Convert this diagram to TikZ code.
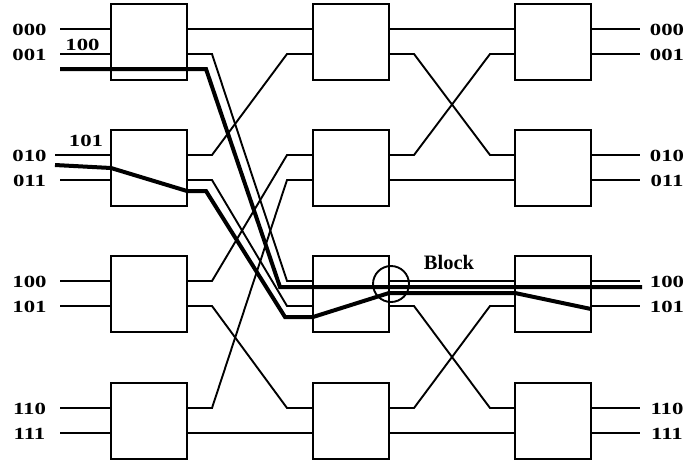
\documentclass[tikz,border=0pt]{standalone}
\usepackage{fontspec}
\usepackage{graphicx}
\setmainfont{Liberation Serif}
\usetikzlibrary{calc}
\newcommand\dgt[1]{\scalebox{1.34}[1]{#1}}
\begin{document}
\begin{tikzpicture}[x=1pt,y=-1pt,
  sw/.style={draw, line width=2pt, minimum width=76pt, minimum height=76pt, inner sep=0pt},
  wire/.style={line width=1.9pt},
  hot/.style={line width=4pt},
  lbl/.style={font=\bfseries\fontsize{17}{17}\selectfont, inner sep=0pt},
  blocklbl/.style={font=\bfseries\fontsize{20.5}{20}\selectfont, inner sep=0pt},
  ring/.style={draw, circle, line width=1.9pt, minimum size=36pt, inner sep=0pt}
]
\useasboundingbox (0,0) rectangle (684,464);
% switch boxes
\foreach \c/\x in {1/149,2/351,3/553}
  \foreach \r/\y in {0/42,1/168,2/294,3/421}
    \node[sw] (b\c\r) at (\x,\y) {};
% port coordinates
\foreach \k/\y/\s in {0/29/60,1/54/60,2/155/55,3/180/60,4/281/60,5/306/60,6/408/60,7/433/60} {
  \coordinate (in\k) at (\s,\y);
  \coordinate (ia\k) at (111,\y);
  \coordinate (oa\k) at (187,\y);
  \coordinate (ib\k) at (313,\y);
  \coordinate (ob\k) at (389,\y);
  \coordinate (ic\k) at (515,\y);
  \coordinate (oc\k) at (591,\y);
  \coordinate (out\k) at (640,\y);
}
% input and output lines
\foreach \k in {0,...,7} {
  \draw[wire] (in\k) -- (ia\k);
  \draw[wire] (oc\k) -- (out\k);
}
% stage 1 wiring
\foreach \a/\b in {0/0,1/4,2/1,3/5,4/2,5/6,6/3,7/7}
  \draw[wire] (oa\a) -- ($(oa\a)+(25,0)$) -- ($(ib\b)+(-26,0)$) -- (ib\b);
% stage 2 wiring
\foreach \a/\b in {0/0,1/2,2/1,3/3,4/4,5/6,6/5,7/7}
  \draw[wire] (ob\a) -- ($(ob\a)+(25,0)$) -- ($(ic\b)+(-25,0)$) -- (ic\b);
% highlighted paths
\coordinate (h1s) at (60,69);
\coordinate (h1a) at (206,69);
\coordinate (h1b) at (280,287);
\coordinate (h1e) at (642,287);
\draw[hot] (h1s) -- (h1a) -- (h1b) -- (h1e);
\coordinate (h2s) at (55,165);
\coordinate (h2a) at (111,168);
\coordinate (h2b) at (187,191);
\coordinate (h2c) at (206,191);
\coordinate (h2d) at (285,317);
\coordinate (h2e) at (313,317);
\coordinate (h2f) at (389,293);
\coordinate (h2g) at (515,293);
\coordinate (h2h) at (591,309);
\draw[hot] (h2s) -- (h2a) -- (h2b) -- (h2c) -- (h2d) -- (h2e) -- (h2f) -- (h2g) -- (h2h);
% block marker
\node[ring] (blk) at (391,284) {};
\node[blocklbl] (blklbl) at (449,262) {Block};
% labels
\foreach \t/\y [count=\i] in {000/30,001/55,010/156,011/181,100/282,101/307,110/409,111/434} {
  \node[lbl] (li\i) at (29.5,\y) {\dgt{\t}};
  \node[lbl] (lo\i) at (667,\y) {\dgt{\t}};
}
\node[lbl] (d1) at (82.5,44.5) {\dgt{100}};
\node[lbl] (d2) at (86,141) {\dgt{101}};
\end{tikzpicture}
\end{document}
